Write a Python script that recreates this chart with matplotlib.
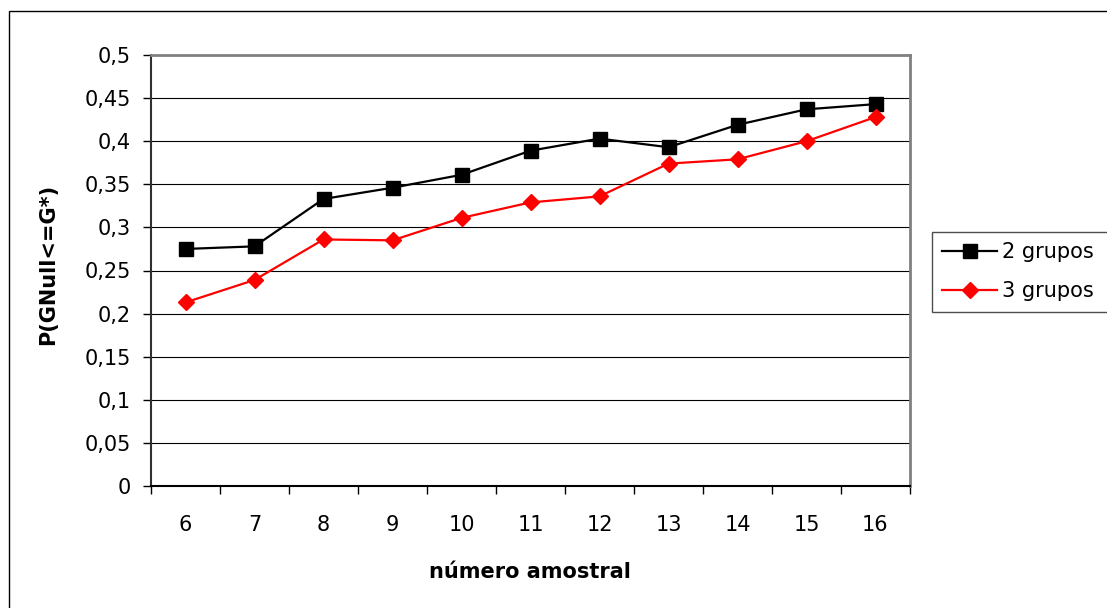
import matplotlib
matplotlib.use("Agg")
import matplotlib.pyplot as plt
from matplotlib.patches import Rectangle

plt.rcParams['font.family'] = ['DejaVu Sans']

# Sample sizes and probabilities for each grouping
sample_sizes = [6, 7, 8, 9, 10, 11, 12, 13, 14, 15, 16]
two_groups = [0.275, 0.278, 0.333, 0.346, 0.361, 0.389, 0.403, 0.393, 0.419, 0.437, 0.443]
three_groups = [0.213, 0.239, 0.286, 0.285, 0.311, 0.329, 0.336, 0.374, 0.379, 0.400, 0.428]
y_ticks = [0, 0.05, 0.1, 0.15, 0.2, 0.25, 0.3, 0.35, 0.4, 0.45, 0.5]

FS = 15
W, H = 1107, 608
fig = plt.figure(figsize=(W / 100, H / 100), dpi=100)

# outer chart frame
fig.patches.append(Rectangle((9 / W, -0.1), 1.2, (H - 11) / H + 0.1,
                             transform=fig.transFigure, fill=False,
                             edgecolor='black', linewidth=1.0))

left, right, top, bottom = 151, 910, 55, 486
ax = fig.add_axes([left / W, 1 - bottom / H, (right - left) / W, (bottom - top) / H])

pos = list(range(len(sample_sizes)))
ax.plot(pos, two_groups, color='black', linewidth=1.6, marker='s',
        markersize=10, markerfacecolor='black', markeredgecolor='black',
        label='2 grupos', zorder=3)
ax.plot(pos, three_groups, color='#ff0000', linewidth=1.6, marker='D',
        markersize=8, markerfacecolor='#ff0000', markeredgecolor='#ff0000',
        label='3 grupos', zorder=3)

ax.set_xlim(-0.5, len(sample_sizes) - 0.5)
ax.set_ylim(0, 0.5)
ax.set_yticks(y_ticks)
ax.set_yticklabels([('%g' % v).replace('.', ',') for v in y_ticks])
ax.yaxis.grid(True, color='black', linewidth=0.8)
ax.set_axisbelow(True)

# category labels centred, tick marks on the category boundaries
ax.set_xticks(pos)
ax.set_xticklabels([str(s) for s in sample_sizes])
ax.tick_params(axis='x', which='major', length=0, pad=21)
ax.set_xticks([p - 0.5 for p in pos] + [pos[-1] + 0.5], minor=True)
ax.tick_params(axis='x', which='minor', length=6, width=1.0, color='black')
ax.tick_params(axis='y', length=6, width=1.0, color='black', pad=8.5)
ax.tick_params(labelsize=FS)

for side in ('top', 'right'):
    ax.spines[side].set_color('#808080')
    ax.spines[side].set_linewidth(2)
ax.spines['left'].set_color('#303030')
ax.spines['left'].set_linewidth(1.5)
ax.spines['bottom'].set_color('black')
ax.spines['bottom'].set_linewidth(1.5)

fig.text(48 / W, 1 - 264 / H, 'P(GNull<=G*)', rotation=90, ha='center',
         va='center', fontsize=FS, fontweight='bold')
fig.text(530 / W, 1 - 578 / H, 'número amostral', ha='center', va='baseline',
         fontsize=FS, fontweight='bold')

# legend box runs from x=932 to the right edge of the figure
leg = fig.legend(loc='upper left',
                 bbox_to_anchor=(932 / W, 1 - 310 / H, (1112 - 932) / W, 78 / H),
                 mode='expand', fontsize=FS, frameon=True, fancybox=False,
                 handlelength=2.6, handletextpad=0.25, borderpad=0.5,
                 labelspacing=0.9, borderaxespad=0)
leg.get_frame().set_edgecolor('#202020')
leg.get_frame().set_linewidth(1.0)

fig.savefig('out.png', dpi=100)
